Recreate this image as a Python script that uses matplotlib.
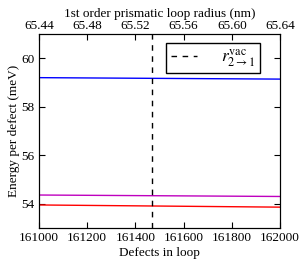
import numpy as np
import matplotlib
matplotlib.use("Agg")
import matplotlib.pyplot as plt

plt.rcParams['font.family'] = ['Liberation Serif', 'DejaVu Serif']
plt.rcParams['mathtext.fontset'] = 'stix'
plt.rcParams['font.size'] = 9.5

# data
defects = [161000, 162000]
energy_blue = [59.20, 59.14]
energy_magenta = [54.36, 54.30]
energy_red = [53.95, 53.86]
n_transition = 161468
radius_ticks = [65.44, 65.48, 65.52, 65.56, 65.60, 65.64]

fig = plt.figure(figsize=(3.06, 2.66), dpi=100)
# axes box: x 39..280 px, y 34..228 px
ax = fig.add_axes([39/306, 1-228/266, 241/306, 194/266])

ax.plot(defects, energy_blue, color='b', lw=1)
ax.plot(defects, energy_magenta, color='m', lw=1)
ax.plot(defects, energy_red, color='r', lw=1)
ax.axvline(n_transition, color='k', ls=(0, (4, 4)), lw=1,
           label=r'$r_{2\rightarrow 1}^{\mathrm{vac}}$')

ax.set_xlim(161000, 162000)
ax.set_ylim(53, 61)
ax.set_xticks([161000, 161200, 161400, 161600, 161800, 162000])
ax.set_yticks([54, 56, 58, 60])
ax.tick_params(direction='in', top=False, right=True, length=4, pad=3)
ax.set_xlabel('Defects in loop', labelpad=2)
ax.set_ylabel('Energy per defect (meV)', labelpad=1)
ax.legend(loc='upper right', bbox_to_anchor=(0.917, 0.954), borderaxespad=0,
          fancybox=False, edgecolor='k', handlelength=1.5, borderpad=0.25,
          handletextpad=1.4, framealpha=1, prop={'size': 12.5})

ax2 = ax.twiny()
ax2.set_xlim(radius_ticks[0], radius_ticks[-1])
ax2.set_xticks(radius_ticks)
ax2.set_xticklabels(['%.2f' % t for t in radius_ticks])
ax2.tick_params(direction='in', length=4, pad=1.5)
ax2.set_xlabel('1st order prismatic loop radius (nm)', labelpad=2)

fig.savefig('out.png', dpi=100)
